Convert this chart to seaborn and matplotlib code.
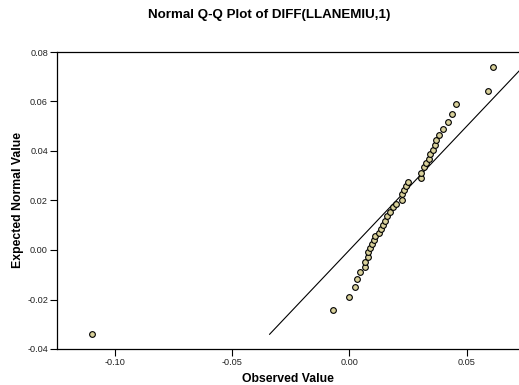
import numpy as np
import pandas as pd
import seaborn as sns
import matplotlib.pyplot as plt

# Values
observed = [-0.1098, -0.0072, -0.0004, 0.0024, 0.0033, 0.0047, 0.0066, 0.0066,
            0.0077, 0.0078, 0.0088, 0.0098, 0.0105, 0.0111, 0.0125, 0.0134,
            0.0145, 0.0152, 0.0162, 0.0173, 0.0185, 0.0199, 0.0222, 0.0226,
            0.0233, 0.0240, 0.0251, 0.0303, 0.0307, 0.0320, 0.0327, 0.0338,
            0.0344, 0.0357, 0.0366, 0.0369, 0.0383, 0.0399, 0.0422, 0.0438,
            0.0455, 0.0592, 0.0612]
expected = [-0.0341, -0.0242, -0.0190, -0.0151, -0.0118, -0.0090, -0.0067, -0.0047,
            -0.0027, -0.0009, 0.0007, 0.0023, 0.0040, 0.0057, 0.0067, 0.0084,
            0.0101, 0.0118, 0.0137, 0.0155, 0.0173, 0.0186, 0.0202, 0.0226,
            0.0244, 0.0260, 0.0276, 0.0292, 0.0312, 0.0335, 0.0350, 0.0369,
            0.0388, 0.0404, 0.0423, 0.0444, 0.0465, 0.0489, 0.0517, 0.0551,
            0.0590, 0.0644, 0.0739]
x_ticks = [-0.10, -0.05, 0.00, 0.05]
y_ticks = [-0.04, -0.02, 0.00, 0.02, 0.04, 0.06, 0.08]

df = pd.DataFrame({"Observed": observed, "Expected": expected})
ref = pd.DataFrame({"x": [min(expected), max(expected)],
                    "y": [min(expected), max(expected)]})

sns.set_style("white")
plt.rcParams["font.family"] = ["Liberation Sans", "DejaVu Sans"]

fig = plt.figure(figsize=(5.19, 3.85), dpi=100)
ax = fig.add_axes([57 / 519, 1 - 349 / 385, 1 - 57 / 519, (349 - 52) / 385])

sns.lineplot(data=ref, x="x", y="y", color="black", linewidth=0.8, ax=ax)
sns.scatterplot(data=df, x="Observed", y="Expected", color="#d8d09a",
                edgecolor="black", linewidth=0.8, s=17, ax=ax, zorder=3)

ax.set_xlim(-0.1247, 0.0723)
ax.set_ylim(-0.04, 0.08)
ax.set_xticks(x_ticks)
ax.set_yticks(y_ticks)
ax.set_xticklabels([f"{v:.2f}" for v in x_ticks])
ax.set_yticklabels([f"{v:.2f}" for v in y_ticks])
ax.tick_params(axis="both", direction="out", length=5, width=0.8,
               labelsize=6.6, colors="black", labelcolor="#222222", pad=1.5,
               bottom=True, left=True)

for side in ["top", "left", "bottom"]:
    ax.spines[side].set_color("black")
    ax.spines[side].set_linewidth(0.9)
ax.spines["right"].set_visible(False)

ax.set_xlabel("Observed Value", fontsize=8.8, fontweight="bold",
              color="black", labelpad=4)
ax.set_ylabel("Expected Normal Value", fontsize=8.8, fontweight="bold",
              color="black", labelpad=2.5)

fig.text(269 / 519, 1 - 15 / 385, "Normal Q-Q Plot of DIFF(LLANEMIU,1)",
         ha="center", va="center", fontsize=9.6, fontweight="bold",
         color="black")

fig.savefig("out.png", dpi=100)
